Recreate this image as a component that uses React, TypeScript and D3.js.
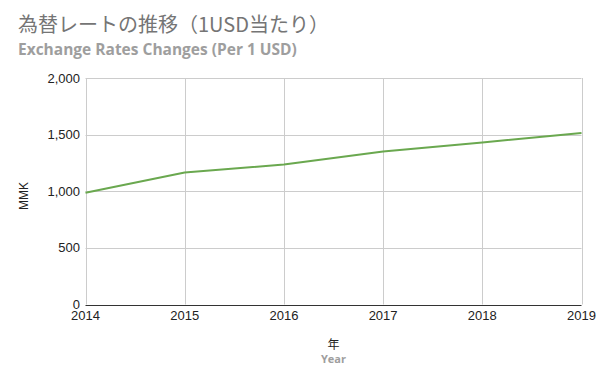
import React from "react";
import * as d3 from "d3";

const years: number[] = [2014, 2015, 2016, 2017, 2018, 2019];
const rates: number[] = [987, 1165, 1236, 1352, 1430, 1515];
const yTicks: number[] = [0, 500, 1000, 1500, 2000];

const titleJa = "為替レートの推移（1USD当たり）";
const titleEn = "Exchange Rates Changes (Per 1 USD)";
const yAxisTitle = "MMK";
const xAxisTitleJa = "年";
const xAxisTitleEn = "Year";

export default function App() {
  const W = 600, H = 371;
  const left = 85.5, right = 581.5, top = 78, bottom = 304.5;
  const x = d3.scaleLinear().domain([2014, 2019]).range([left, right]);
  const y = d3.scaleLinear().domain([0, 2000]).range([bottom, top]);
  const line = d3.line<number>().x((_, i) => x(years[i])).y((d) => y(d));
  const fmt = d3.format(",");
  const tickFont = "Arial, 'Liberation Sans', sans-serif";
  return (
    <div style={{ position: "absolute", left: 0, top: 0 }}>
      <svg width={W} height={H} style={{ display: "block", background: "#fff" }}>
        <text x={18} y={32} fontFamily="'Noto Sans CJK JP', sans-serif" fontSize={20} fill="#757575">{titleJa}</text>
        <text x={18} y={55} fontFamily="'Open Sans', 'Noto Sans', sans-serif" fontWeight="bold" fontSize={15.5} fill="#9e9e9e">{titleEn}</text>
        {yTicks.map((t) => (
          <g key={"y" + t}>
            {t !== 0 && <line x1={left} x2={right} y1={Math.round(y(t)) + 0.5} y2={Math.round(y(t)) + 0.5} stroke="#cccccc" strokeWidth={1} />}
            <text x={80} y={y(t) + 4.5} textAnchor="end" fontFamily={tickFont} fontSize={13} fill="#222">{fmt(t)}</text>
          </g>
        ))}
        {years.map((yr) => (
          <g key={"x" + yr}>
            <line x1={Math.round(x(yr)) + 0.5} x2={Math.round(x(yr)) + 0.5} y1={top} y2={bottom} stroke="#cccccc" strokeWidth={1} />
            <text x={x(yr)} y={320} textAnchor="middle" fontFamily={tickFont} fontSize={13} fill="#222">{yr}</text>
          </g>
        ))}
        <line x1={left} x2={right} y1={Math.round(bottom) + 0.5} y2={Math.round(bottom) + 0.5} stroke="#333333" strokeWidth={1} />
        <path d={line(rates) || ""} fill="none" stroke="#6aa84f" strokeWidth={2} strokeLinejoin="round" />
        <text transform={`translate(28,196) rotate(-90)`} textAnchor="middle" fontFamily={tickFont} fontSize={12} fill="#222">{yAxisTitle}</text>
        <text x={(left + right) / 2} y={349} textAnchor="middle" fontFamily="'Noto Sans CJK JP', sans-serif" fontSize={12} fill="#222">{xAxisTitleJa}</text>
        <text x={(left + right) / 2} y={363} textAnchor="middle" fontFamily="'Open Sans', 'Noto Sans', sans-serif" fontWeight="bold" fontSize={11} fill="#9e9e9e">{xAxisTitleEn}</text>
      </svg>
    </div>
  );
}
